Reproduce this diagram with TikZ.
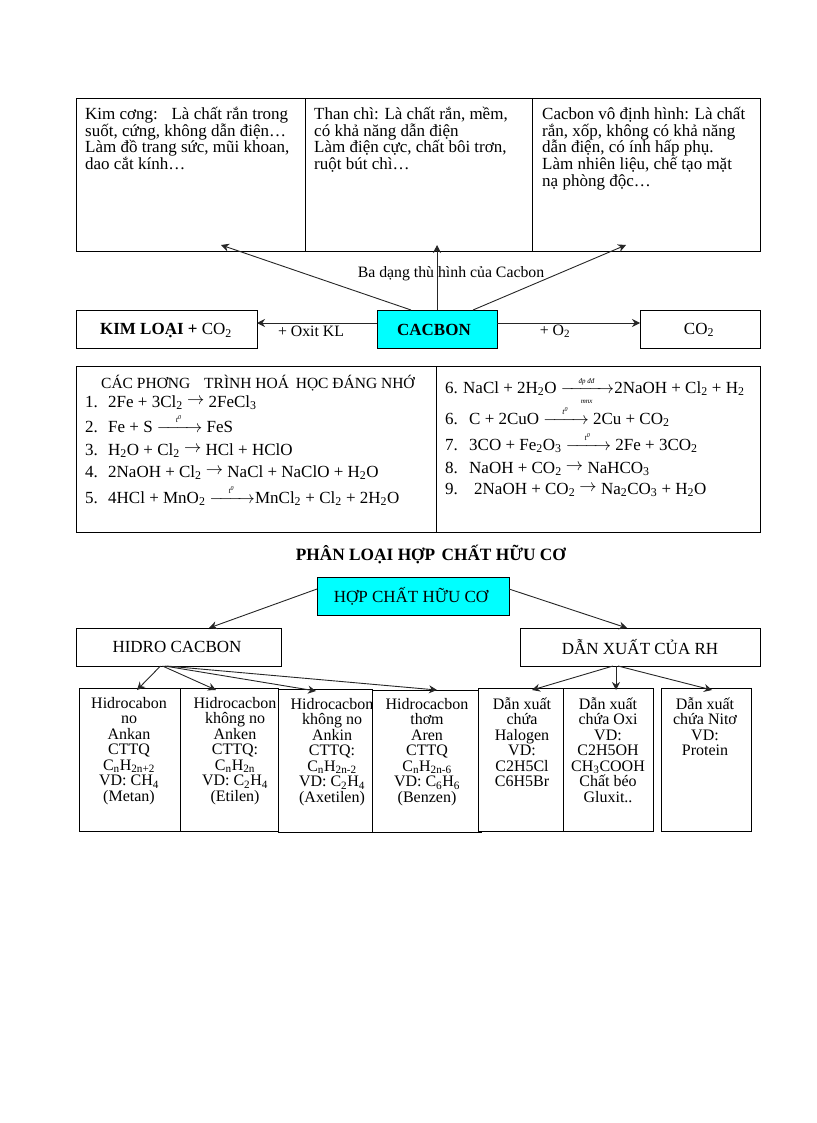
\documentclass[tikz,border=0pt]{standalone}
\usepackage{amsmath}
\usepackage{fontspec}
\setmainfont{Liberation Serif}
\usepackage{tikz}
\usetikzlibrary{arrows.meta,positioning}

\definecolor{aqua}{RGB}{0,255,255}
\newcommand{\low}[1]{\textsubscript{#1}}
\newcommand{\shortpil}{\raisebox{2.5pt}{$\rightarrow$}}
\newcommand{\heatpil}[1]{$\xrightarrow{\makebox[#1]{\footnotesize\itshape t\textsuperscript{0}}}$}
\newcommand{\num}[2][23pt]{\makebox[#1][l]{#2}}

\begin{document}
\begin{tikzpicture}[
    x=1pt, y=-1pt,
    box/.style={draw, line width=0.9pt, anchor=north west, outer sep=0pt, inner sep=0pt, fill=white},
    cyanbox/.style={box, fill=aqua},
    arrow/.style={-{Stealth[length=8pt,width=8pt]}, line width=0.9pt, draw=black!85},
    txt/.style={anchor=north west, align=left, inner sep=0pt, font=\fontsize{17}{16.7}\selectfont},
    lbl/.style={anchor=center, inner sep=0pt, font=\fontsize{17}{17}\selectfont},
    small/.style={anchor=center, inner sep=0pt, font=\fontsize{15.8}{16}\selectfont},
    eq/.style={anchor=base west, inner sep=0pt, font=\fontsize{17}{17}\selectfont},
    col/.style={anchor=north, align=center, inner sep=0pt, font=\fontsize{16}{15.5}\selectfont}
]
\useasboundingbox (0,0) rectangle (816,1123);

% Three allotropes
\node[box, minimum width=229pt, minimum height=153pt] (kimcuong) at (76,98) {};
\node[box, minimum width=227pt, minimum height=153pt] (thanchi) at (305,98) {};
\node[box, minimum width=228pt, minimum height=153pt] (vodinh) at (532,98) {};
\node[txt] (kimcuongtxt) at (85,107) {Kim cơng:\hspace{8pt} Là chất rắn trong\\suốt, cứng, không dẫn điện…\\Làm đồ trang sức, mũi khoan,\\dao cắt kính…};
\node[txt] (thanchitxt) at (314,107) {Than chì: Là chất rắn, mềm,\\có khả năng dẫn điện\\Làm điện cực, chất bôi trơn,\\ruột bút chì…};
\node[txt] (vodinhtxt) at (542,107) {Cacbon vô định hình: Là chất\\rắn, xốp, không có khả năng\\dẫn điện, có ính hấp phụ.\\Làm nhiên liệu, chế tạo mặt\\nạ phòng độc…};

% Middle row
\node[box, minimum width=181pt, minimum height=38pt] (kimloai) at (76,310) {};
\node[cyanbox, minimum width=120pt, minimum height=38pt] (cacbon) at (377,310) {};
\node[box, minimum width=120pt, minimum height=38pt] (cohai) at (640,310) {};
\node[lbl] (kimloaitxt) at (166,331) {\textbf{KIM LOẠI +} CO\low{2}};
\node[lbl] (cacbontxt) at (434,330) {\textbf{CACBON}};
\node[lbl] (cohaitxt) at (699,330) {CO\low{2}};

% Arrows out of the centre
\coordinate (tipkim) at (221,245);
\coordinate (tipthan) at (437,245);
\coordinate (tipvo) at (626,245);
\draw[arrow] ([xshift=-26pt]cacbon.north) -- (tipkim);
\draw[arrow] (cacbon.north) -- (tipthan);
\draw[arrow] ([xshift=36pt]cacbon.north) -- (tipvo);
\draw[arrow] ([yshift=6pt]cacbon.west) -- ([yshift=6pt]kimloai.east);
\draw[arrow] ([yshift=6pt]cacbon.east) -- ([yshift=6pt]cohai.west);

\node[small] (badang) at (451,274) {Ba dạng thù hình của Cacbon};
\node[small] (oxit) at (311,331) {+ Oxit KL};
\node[small] (oxi) at (555,331) {+ O\low{2}};

% Equations
\node[box, minimum width=360pt, minimum height=166pt] (eqleft) at (76,366) {};
\node[box, minimum width=324pt, minimum height=166pt] (eqright) at (436,366) {};
\node[eq] (eqtitle) at (101,388) {\fontsize{15.5}{16}\selectfont CÁC PHƠNG\hspace{10pt} TRÌNH HOÁ\hspace{3pt} HỌC ĐÁNG NHỚ};
\node[eq] (eqa) at (85,407) {\num{1.}2Fe + 3Cl\low{2} \shortpil\ 2FeCl\low{3}};
\node[eq] (eqb) at (85,432) {\num{2.}Fe + S \heatpil{36pt} FeS};
\node[eq] (eqc) at (85,455) {\num{3.}H\low{2}O + Cl\low{2} \shortpil\ HCl + HClO};
\node[eq] (eqd) at (85,477) {\num{4.}2NaOH + Cl\low{2} \shortpil\ NaCl + NaClO + H\low{2}O};
\node[eq] (eqe) at (85,503) {\num{5.}4HCl + MnO\low{2} \heatpil{36pt}MnCl\low{2} + Cl\low{2} + 2H\low{2}O};
\node[eq] (eqf) at (445,393) {\num[18pt]{6.}NaCl + 2H\low{2}O $\xrightarrow[{\makebox[44pt]{\scriptsize\itshape mnx}}]{\makebox[44pt]{\scriptsize\itshape đp đđ}}$2NaOH + Cl\low{2} + H\low{2}};
\node[eq] (eqg) at (445,424) {\num[24pt]{6.}C + 2CuO \heatpil{36pt} 2Cu + CO\low{2}};
\node[eq] (eqh) at (445,450) {\num[24pt]{7.}3CO + Fe\low{2}O\low{3} \heatpil{36pt} 2Fe + 3CO\low{2}};
\node[eq] (eqi) at (445,473) {\num[24pt]{8.}NaOH + CO\low{2} \shortpil\ NaHCO\low{3}};
\node[eq] (eqj) at (445,494) {\num[29pt]{9.}2NaOH + CO\low{2} \shortpil\ Na\low{2}CO\low{3} + H\low{2}O};

% Organic compounds
\node[lbl] (phanloai) at (431,554) {\fontsize{17.3}{18}\selectfont\textbf{PHÂN LOẠI HỢP\hspace{2pt} CHẤT HỮU CƠ}};
\node[cyanbox, minimum width=192pt, minimum height=38pt] (hopchat) at (317,577) {};
\node[box, minimum width=205pt, minimum height=38pt] (hidro) at (76,628) {};
\node[box, minimum width=240pt, minimum height=38pt] (danxuat) at (520,628) {};
\node[lbl] (hopchattxt) at (411,596) {HỢP CHẤT HỮU CƠ};
\node[lbl] (hidrotxt) at (177,647) {HIDRO CACBON};
\node[lbl] (danxuattxt) at (640,647) {DẪN XUẤT CỦA RH};

\coordinate (tiphidro) at (209,628);
\coordinate (tipdan) at (627,628);
\draw[arrow] ([yshift=7pt]hopchat.west) -- (tiphidro);
\draw[arrow] ([yshift=7pt]hopchat.east) -- (tipdan);

% Columns
\node[box, minimum width=101pt, minimum height=143pt] (ankan) at (79,688) {};
\node[box, minimum width=98pt, minimum height=143pt] (anken) at (180,688) {};
\node[box, minimum width=94pt, minimum height=143pt] (ankin) at (278,689) {};
\node[box, minimum width=109pt, minimum height=142pt] (aren) at (372,690) {};
\node[box, minimum width=85pt, minimum height=143pt] (halogen) at (478,688) {};
\node[box, minimum width=90pt, minimum height=143pt] (oxigen) at (563,688) {};
\node[box, minimum width=90pt, minimum height=143pt] (nito) at (661,688) {};

\node[col] (ankantxt) at (129,697) {Hidrocabon\\no\\Ankan\\CTTQ\\C\low{n}H\low{2n+2}\\VD: CH\low{4}\\(Metan)};
\node[col] (ankentxt) at (235,697) {Hidrocacbon\\không no\\Anken\\CTTQ:\\C\low{n}H\low{2n}\\VD: C\low{2}H\low{4}\\(Etilen)};
\node[col] (ankintxt) at (332,698) {Hidrocacbon\\không no\\Ankin\\CTTQ:\\C\low{n}H\low{2n-2}\\VD: C\low{2}H\low{4}\\(Axetilen)};
\node[col] (arentxt) at (427,698) {Hidrocacbon\\thơm\\Aren\\CTTQ\\C\low{n}H\low{2n-6}\\VD: C\low{6}H\low{6}\\(Benzen)};
\node[col] (halogentxt) at (522,697) {Dẫn xuất\\chứa\\Halogen\\VD:\\C2H5Cl\\C6H5Br};
\node[col] (oxigentxt) at (608,697) {Dẫn xuất\\chứa Oxi\\VD:\\C2H5OH\\CH\low{3}COOH\\Chất béo\\Gluxit..};
\node[col] (nitotxt) at (705,697) {Dẫn xuất\\chứa Nitơ\\VD:\\Protein};

% Arrows into the columns
\coordinate (tipankan) at (137,690);
\coordinate (tipanken) at (216,690);
\coordinate (tipankin) at (316,691);
\coordinate (tiparen) at (437,690);
\coordinate (tiphalogen) at (532,690);
\coordinate (tipoxi) at (616,690);
\coordinate (tipnito) at (712,690);
\draw[arrow] ([xshift=-18pt]hidro.south) -- (tipankan);
\draw[arrow] ([xshift=-16pt]hidro.south) -- (tipanken);
\draw[arrow] ([xshift=-14pt]hidro.south) -- (tipankin);
\draw[arrow] ([xshift=-12pt]hidro.south) -- (tiparen);
\draw[arrow] ([xshift=-27pt]danxuat.south) -- (tiphalogen);
\draw[arrow] ([xshift=-24pt]danxuat.south) -- (tipoxi);
\draw[arrow] ([xshift=-22pt]danxuat.south) -- (tipnito);

\end{tikzpicture}
\end{document}
